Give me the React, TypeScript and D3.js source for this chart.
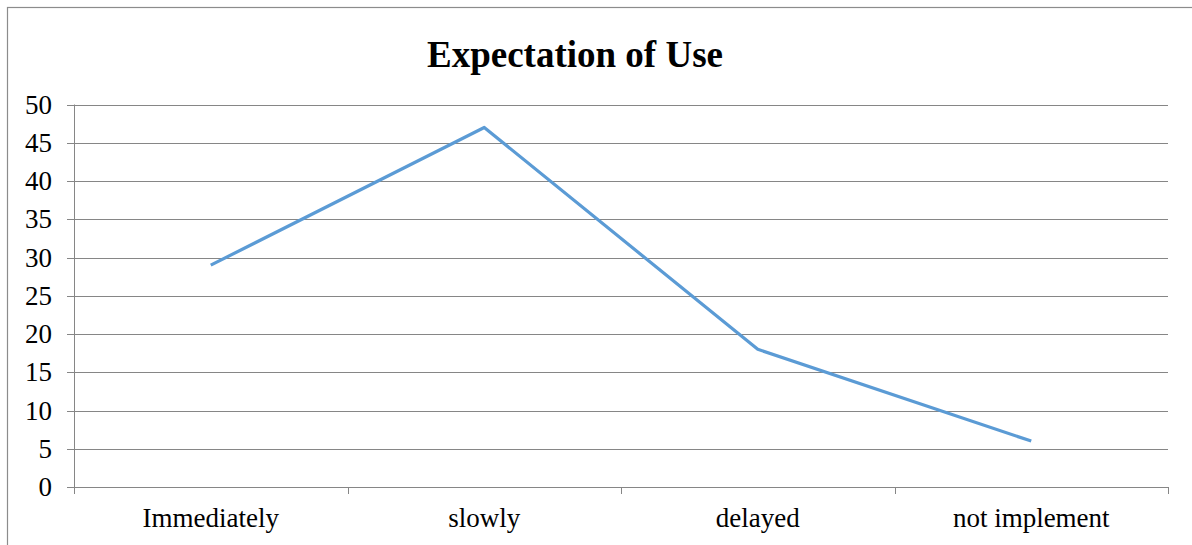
import React, { useRef, useEffect } from "react";
import * as d3 from "d3";

const categories = ["Immediately", "slowly", "delayed", "not implement"];
const values = [29, 47, 18, 6];
const yTicks = [0, 5, 10, 15, 20, 25, 30, 35, 40, 45, 50];

const W = 1192;
const H = 545;
const margin = { top: 104.5, right: 24, bottom: 58, left: 74 };
const font = "'Liberation Serif', 'Times New Roman', serif";

const App: React.FC = () => {
  const svgRef = useRef<SVGSVGElement>(null);

  useEffect(() => {
    if (!svgRef.current) return;
    const svg = d3.select(svgRef.current);
    svg.selectAll("*").remove();

    const x = d3
      .scaleBand()
      .domain(categories)
      .range([margin.left, W - margin.right])
      .padding(0);
    const y = d3
      .scaleLinear()
      .domain([0, 50])
      .range([H - margin.bottom, margin.top]);

    // outer frame
    svg
      .append("rect")
      .attr("x", 7.5)
      .attr("y", 7.5)
      .attr("width", W + 20)
      .attr("height", H + 20)
      .attr("fill", "none")
      .attr("stroke", "#8c8c8c")
      .attr("stroke-width", 1.2);

    // title
    svg
      .append("text")
      .attr("x", 575)
      .attr("y", 67)
      .attr("text-anchor", "middle")
      .style("font-family", font)
      .style("font-size", "37px")
      .style("font-weight", "bold")
      .text("Expectation of Use");

    // gridlines
    svg
      .append("g")
      .selectAll("line")
      .data(yTicks)
      .join("line")
      .attr("x1", margin.left - 7)
      .attr("x2", W - margin.right)
      .attr("y1", (d) => Math.round(y(d)) + 0.5)
      .attr("y2", (d) => Math.round(y(d)) + 0.5)
      .attr("stroke", "#868686")
      .attr("stroke-width", 1);

    // y axis line
    svg
      .append("line")
      .attr("x1", margin.left + 0.5)
      .attr("x2", margin.left + 0.5)
      .attr("y1", margin.top)
      .attr("y2", H - margin.bottom + 7)
      .attr("stroke", "#868686");

    // x axis ticks at category boundaries
    const bounds = categories.map((c) => x(c) as number).concat([W - margin.right]);
    svg
      .append("g")
      .selectAll("line")
      .data(bounds)
      .join("line")
      .attr("x1", (d) => Math.round(d) + 0.5)
      .attr("x2", (d) => Math.round(d) + 0.5)
      .attr("y1", y(0))
      .attr("y2", y(0) + 7)
      .attr("stroke", "#868686");

    // y labels
    svg
      .append("g")
      .selectAll("text")
      .data(yTicks)
      .join("text")
      .attr("x", 52)
      .attr("y", (d) => y(d))
      .attr("dy", "0.34em")
      .attr("text-anchor", "end")
      .style("font-family", font)
      .style("font-size", "27px")
      .text((d) => d);

    // x labels
    svg
      .append("g")
      .selectAll("text")
      .data(categories)
      .join("text")
      .attr("x", (d) => (x(d) as number) + x.bandwidth() / 2)
      .attr("y", 527)
      .attr("text-anchor", "middle")
      .style("font-family", font)
      .style("font-size", "27px")
      .text((d) => d);

    // series line
    const line = d3
      .line<number>()
      .x((_, i) => (x(categories[i]) as number) + x.bandwidth() / 2)
      .y((d) => y(d));
    svg
      .append("path")
      .datum(values)
      .attr("d", line)
      .attr("fill", "none")
      .attr("stroke", "#5b9bd5")
      .attr("stroke-width", 3.2)
      .attr("stroke-linejoin", "round");
  }, []);

  return (
    <svg
      ref={svgRef}
      width={W}
      height={H}
      style={{ position: "fixed", left: 0, top: 0, background: "#fff" }}
    ></svg>
  );
};

export default App;
